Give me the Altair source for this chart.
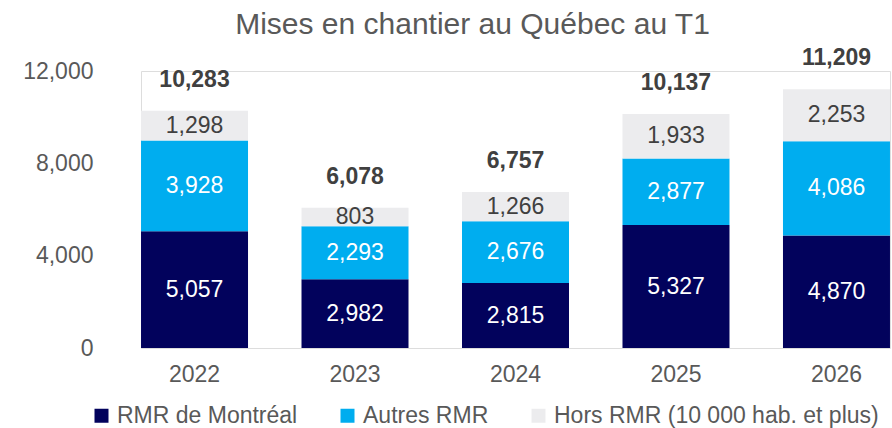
import altair as alt
import pandas as pd

annees = ["2022", "2023", "2024", "2025", "2026"]
series = ["RMR de Montréal", "Autres RMR", "Hors RMR (10 000 hab. et plus)"]
montreal = [5057, 2982, 2815, 5327, 4870]
autres = [3928, 2293, 2676, 2877, 4086]
hors = [1298, 803, 1266, 1933, 2253]
totaux = [10283, 6078, 6757, 10137, 11209]
couleurs = ["#02025c", "#00adef", "#ececee"]

rows = []
for i, a in enumerate(annees):
    for k, (s, vals) in enumerate(zip(series, [montreal, autres, hors])):
        rows.append({"annee": a, "serie": s, "valeur": vals[i], "ordre": k})
df = pd.DataFrame(rows)
df_tot = pd.DataFrame({"annee": annees, "total": totaux})

FONT = "Liberation Sans"

x = alt.X("annee:N", title=None,
          scale=alt.Scale(paddingInner=0.333, paddingOuter=0),
          axis=alt.Axis(labelAngle=0, labelFontSize=23, labelColor="#595959",
                        labelFont=FONT, ticks=False, domain=False, grid=False,
                        labelPadding=15))

base = alt.Chart(df).transform_stack(
    stack="valeur", as_=["y0", "y1"], groupby=["annee"],
    sort=[alt.SortField("ordre", order="ascending")]
).transform_calculate(mid="(datum.y0 + datum.y1) / 2")

bars = base.mark_bar(size=107).encode(
    x=x,
    y=alt.Y("y0:Q", title=None,
            scale=alt.Scale(domain=[0, 12000], nice=False),
            axis=alt.Axis(values=[0, 4000, 8000, 12000], format=",d", grid=False,
                          ticks=False, domain=False, labelFontSize=23,
                          labelColor="#595959", labelFont=FONT, labelPadding=48)),
    y2="y1:Q",
    color=alt.Color("serie:N", title=None,
                    scale=alt.Scale(domain=series, range=couleurs),
                    legend=alt.Legend(orient="none", direction="horizontal",
                                      legendX=-51, legendY=333, symbolType="square",
                                      symbolSize=196, symbolStrokeWidth=0,
                                      labelFontSize=23, labelColor="#595959",
                                      labelFont=FONT, columnPadding=38,
                                      labelOffset=4, columns=3, labelLimit=500)),
    order=alt.Order("ordre:Q"),
)

labels = base.mark_text(fontSize=23, font=FONT, baseline="middle").encode(
    x=x,
    y=alt.Y("mid:Q"),
    text=alt.Text("valeur:Q", format=",d"),
    color=alt.condition(alt.datum.ordre == 2, alt.value("#404040"), alt.value("white")),
)

tot = alt.Chart(df_tot).mark_text(fontSize=23, font=FONT, fontWeight="bold",
                                  baseline="middle", dy=-31, color="#404040").encode(
    x=x,
    y=alt.Y("total:Q"),
    text=alt.Text("total:Q", format=",d"),
)

chart = alt.layer(bars, labels, tot).properties(
    width=749, height=277,
    padding={"left": 141, "top": 71, "right": 2, "bottom": 80},
    autosize=alt.AutoSizeParams(type="none"),
    title=alt.Title("Mises en chantier au Québec au T1", fontSize=30, font=FONT,
                    fontWeight="normal", color="#595959", anchor="middle",
                    frame="group", dx=-43, offset=7),
).configure_view(strokeWidth=0).configure_axis(grid=False).configure(background="white")

chart.save("out.html", embed_options={"renderer": "svg", "actions": False})
